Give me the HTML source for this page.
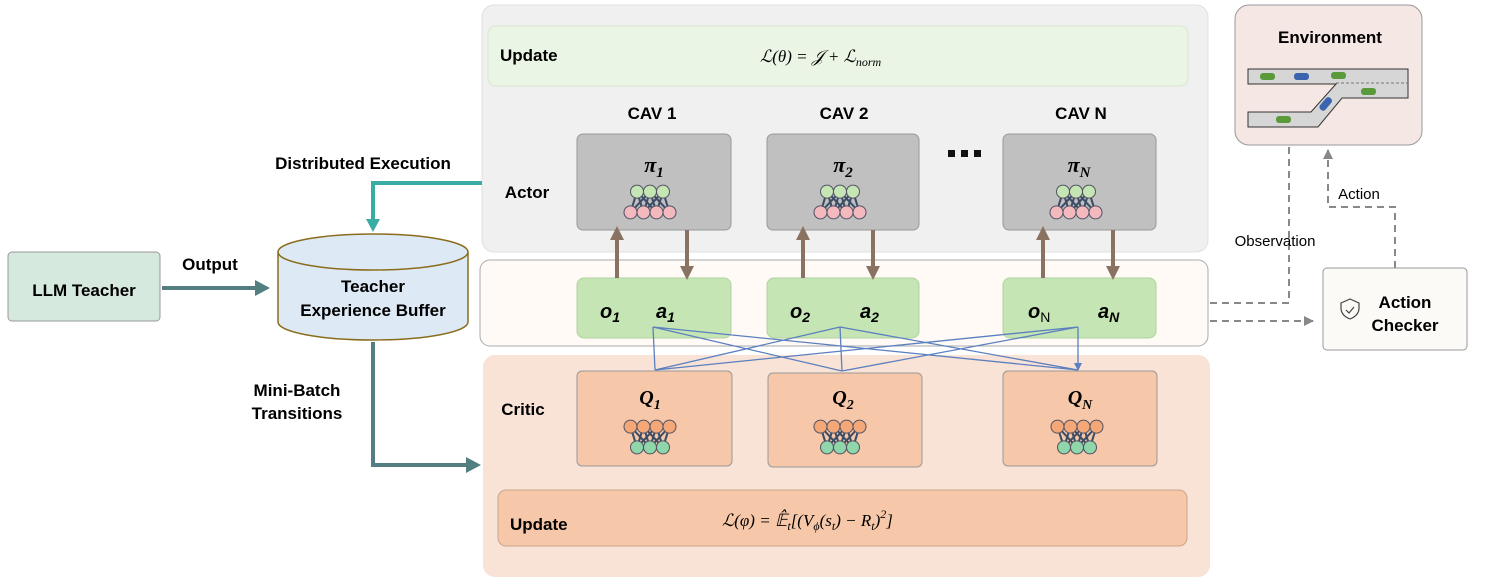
<!DOCTYPE html>
<html><head><meta charset="utf-8"><style>body{margin:0;background:#fff}svg{display:block}text{font-family:"Liberation Sans",sans-serif}.m{font-family:"Liberation Serif",serif;font-style:italic;font-weight:bold}</style></head><body>
<svg width="1495" height="584" viewBox="0 0 1495 584" xmlns="http://www.w3.org/2000/svg">
<defs>
<marker id="bl" markerWidth="8" markerHeight="8" refX="7" refY="4" orient="auto" markerUnits="userSpaceOnUse"><path d="M0,0L8,4L0,8z" fill="#5b7fbf"/></marker>
<marker id="gr" markerWidth="10" markerHeight="10" refX="9" refY="5" orient="auto" markerUnits="userSpaceOnUse"><path d="M0,0L10,5L0,10z" fill="#888"/></marker>
<g id="nnA"><g stroke="#3d4d66" stroke-width="1.6"><path d="M-10,-8L-15,8M-10,-8L-5,8M-10,-8L5,8M0,-8L-15,8M0,-8L-5,8M0,-8L5,8M0,-8L15,8M10,-8L5,8M10,-8L15,8M10,-8L-5,8"/></g><g stroke="#556" stroke-width="0.8"><circle cx="-10" cy="-8" r="5" fill="#c5e6b4"/><circle cx="0" cy="-8" r="5" fill="#c5e6b4"/><circle cx="10" cy="-8" r="5" fill="#c5e6b4"/><circle cx="-15" cy="8" r="5" fill="#f4b8bf"/><circle cx="-5" cy="8" r="5" fill="#f4b8bf"/><circle cx="5" cy="8" r="5" fill="#f4b8bf"/><circle cx="15" cy="8" r="5" fill="#f4b8bf"/></g></g>
<g id="nnQ"><g stroke="#3d4d66" stroke-width="1.6"><path d="M-15,-8L-10,8M-15,-8L0,8M-5,-8L-10,8M-5,-8L0,8M-5,-8L10,8M5,-8L-10,8M5,-8L0,8M5,-8L10,8M15,-8L0,8M15,-8L10,8"/></g><g stroke="#556" stroke-width="0.8"><circle cx="-15" cy="-8" r="5" fill="#f4a877"/><circle cx="-5" cy="-8" r="5" fill="#f4a877"/><circle cx="5" cy="-8" r="5" fill="#f4a877"/><circle cx="15" cy="-8" r="5" fill="#f4a877"/><circle cx="-10" cy="8" r="5" fill="#8fd7aa"/><circle cx="0" cy="8" r="5" fill="#8fd7aa"/><circle cx="10" cy="8" r="5" fill="#8fd7aa"/></g></g>
</defs>
<rect x="482" y="5" width="726" height="247" rx="12" fill="#f0f0f0" stroke="#e0e0e0"/>
<rect x="488" y="26" width="700" height="60" rx="8" fill="#ebf5e5" stroke="#d8e8d0"/>
<text x="500" y="61" font-size="17" font-weight="bold">Update</text>
<text x="760" y="62" font-size="17" class="m" style="font-weight:normal">ℒ(θ) = 𝒥 + ℒ<tspan font-size="12" dy="4">norm</tspan></text>
<text x="652" y="119" font-size="17" font-weight="bold" text-anchor="middle">CAV 1</text>
<text x="844" y="119" font-size="17" font-weight="bold" text-anchor="middle">CAV 2</text>
<text x="1081" y="119" font-size="17" font-weight="bold" text-anchor="middle">CAV N</text>
<text x="527" y="198" font-size="17" font-weight="bold" text-anchor="middle">Actor</text>
<g fill="#111"><rect x="948" y="150" width="7" height="7"/><rect x="961" y="150" width="7" height="7"/><rect x="974" y="150" width="7" height="7"/>
<rect x="951" y="429" width="7" height="7"/><rect x="964" y="429" width="7" height="7"/><rect x="977" y="429" width="7" height="7"/></g>
<g fill="#c0c0c0" stroke="#999"><rect x="577" y="134" width="154" height="96" rx="6"/><rect x="767" y="134" width="152" height="96" rx="6"/><rect x="1003" y="134" width="153" height="96" rx="6"/></g>
<text x="654" y="172" font-size="22" class="m" text-anchor="middle">π<tspan font-size="15" dy="5">1</tspan></text>
<text x="843" y="172" font-size="22" class="m" text-anchor="middle">π<tspan font-size="15" dy="5">2</tspan></text>
<text x="1079" y="172" font-size="22" class="m" text-anchor="middle">π<tspan font-size="15" dy="5">N</tspan></text>
<use href="#nnA" transform="translate(650,202) scale(1.3)"/><use href="#nnA" transform="translate(840,202) scale(1.3)"/><use href="#nnA" transform="translate(1076,202) scale(1.3)"/>
<rect x="480" y="260" width="728" height="86" rx="10" fill="#fffaf5" stroke="#aaa"/>
<g fill="#c5e6b4" stroke="#b0d0a0"><rect x="577" y="278" width="154" height="60" rx="7"/><rect x="767" y="278" width="152" height="60" rx="7"/><rect x="1003" y="278" width="153" height="60" rx="7"/></g>
<g font-size="20" class="m">
<text x="600" y="318">o<tspan font-size="14" dy="4">1</tspan></text><text x="656" y="318">a<tspan font-size="14" dy="4">1</tspan></text>
<text x="790" y="318">o<tspan font-size="14" dy="4">2</tspan></text><text x="860" y="318">a<tspan font-size="14" dy="4">2</tspan></text>
<text x="1028" y="318">o<tspan font-size="14" dy="4" style="font-style:normal;font-weight:normal">N</tspan></text><text x="1098" y="318">a<tspan font-size="14" dy="4">N</tspan></text></g>
<g stroke="#8a7262" stroke-width="4"><path d="M617,278V238M687,230V268M803,278V238M873,230V268M1043,278V238M1113,230V268"/></g>
<g fill="#8a7262"><path d="M610,240L617,226L624,240z M680,266L687,280L694,266z M796,240L803,226L810,240z M866,266L873,280L880,266z M1036,240L1043,226L1050,240z M1106,266L1113,280L1120,266z"/></g>
<rect x="483" y="355" width="727" height="222" rx="12" fill="#f9e3d6"/>
<text x="523" y="415" font-size="17" font-weight="bold" text-anchor="middle">Critic</text>
<g fill="#f6c7a8" stroke="#999"><rect x="577" y="371" width="155" height="95" rx="5"/><rect x="768" y="373" width="154" height="94" rx="5"/><rect x="1003" y="371" width="154" height="95" rx="5"/></g>
<text x="650" y="404" font-size="20" class="m" text-anchor="middle">Q<tspan font-size="14" dy="5">1</tspan></text>
<text x="843" y="404" font-size="20" class="m" text-anchor="middle">Q<tspan font-size="14" dy="5">2</tspan></text>
<text x="1080" y="404" font-size="20" class="m" text-anchor="middle">Q<tspan font-size="14" dy="5">N</tspan></text>
<use href="#nnQ" transform="translate(650,437) scale(1.3)"/><use href="#nnQ" transform="translate(840,437) scale(1.3)"/><use href="#nnQ" transform="translate(1077,437) scale(1.3)"/>
<rect x="498" y="490" width="689" height="56" rx="8" fill="#f6c7a8" stroke="#c9a58c"/>
<text x="510" y="530" font-size="17" font-weight="bold">Update</text>
<text x="722" y="526" font-size="17" class="m" style="font-weight:normal">ℒ(φ) = 𝔼̂<tspan font-size="12" dy="4">t</tspan><tspan dy="-4">[(V</tspan><tspan font-size="12" dy="4">ϕ</tspan><tspan dy="-4">(s</tspan><tspan font-size="12" dy="4">t</tspan><tspan dy="-4">) − R</tspan><tspan font-size="12" dy="4">t</tspan><tspan dy="-4">)</tspan><tspan font-size="12" dy="-8">2</tspan><tspan dy="8">]</tspan></text>
<g stroke="#5b7fbf" stroke-width="1.3" fill="none" marker-end="url(#bl)">
<path d="M653,327L655,370M653,327L842,371M653,327L1078,370M840,327L655,370M840,327L842,371M840,327L1078,370M1078,327L655,370M1078,327L842,371M1078,327L1078,370"/></g>
<rect x="8" y="252" width="152" height="69" rx="4" fill="#d5e9de" stroke="#999"/>
<text x="84" y="296" font-size="17" font-weight="bold" text-anchor="middle">LLM Teacher</text>
<text x="210" y="270" font-size="17" font-weight="bold" text-anchor="middle">Output</text>
<path d="M162,288H258" stroke="#547f82" stroke-width="4"/><path d="M255,280L270,288L255,296z" fill="#547f82"/>
<path d="M278,252V322A95,18 0 0 0 468,322V252" fill="#dde9f5" stroke="#8a6d1c" stroke-width="1.5"/>
<ellipse cx="373" cy="252" rx="95" ry="18" fill="#dde9f5" stroke="#8a6d1c" stroke-width="1.5"/>
<text x="373" y="292" font-size="17" font-weight="bold" text-anchor="middle">Teacher</text>
<text x="373" y="316" font-size="17" font-weight="bold" text-anchor="middle">Experience Buffer</text>
<text x="363" y="169" font-size="17" font-weight="bold" text-anchor="middle">Distributed Execution</text>
<path d="M482,183H373V222" stroke="#3aaca6" stroke-width="4" fill="none"/><path d="M366,219L373,232L380,219z" fill="#3aaca6"/>
<path d="M373,342V465H468" stroke="#547f82" stroke-width="4" fill="none"/><path d="M466,457L481,465L466,473z" fill="#547f82"/>
<text x="297" y="396" font-size="17" font-weight="bold" text-anchor="middle">Mini-Batch</text>
<text x="297" y="419" font-size="17" font-weight="bold" text-anchor="middle">Transitions</text>
<rect x="1235" y="5" width="187" height="140" rx="14" fill="#f5e7e4" stroke="#999"/>
<text x="1330" y="43" font-size="17" font-weight="bold" text-anchor="middle">Environment</text>
<path d="M1248,69H1408V98H1342L1318,127H1248V112H1311L1336,84H1248z" fill="#d6d6d6" stroke="#333" stroke-width="1"/>
<path d="M1336,83H1408" stroke="#777" stroke-dasharray="3,2"/>
<g fill="#5a9a3a"><rect x="1260" y="73" width="15" height="7" rx="3"/><rect x="1331" y="72" width="15" height="7" rx="3"/><rect x="1361" y="88" width="15" height="7" rx="3"/><rect x="1276" y="116" width="15" height="7" rx="3"/></g>
<g fill="#3a64b0"><rect x="1294" y="73" width="15" height="7" rx="3"/><rect x="1318" y="101" width="15" height="7" rx="3" transform="rotate(-50 1325 104)"/></g>
<rect x="1323" y="268" width="144" height="82" rx="4" fill="#fcfaf6" stroke="#999"/>
<text x="1405" y="308" font-size="17" font-weight="bold" text-anchor="middle">Action</text>
<text x="1405" y="331" font-size="17" font-weight="bold" text-anchor="middle">Checker</text>
<path d="M1341,303l9,-4l9,4v5c0,6,-4,9,-9,11c-5,-2,-9,-5,-9,-11z M1346,310l3,3l5,-6" fill="none" stroke="#444" stroke-width="1.2"/>
<g stroke="#888" stroke-width="2" stroke-dasharray="7,5" fill="none">
<path d="M1289,147V303H1210"/>
<path d="M1210,321H1313" marker-end="url(#gr)"/>
<path d="M1395,268V207H1328V150" marker-end="url(#gr)"/>
</g>
<text x="1275" y="246" font-size="15" text-anchor="middle">Observation</text>
<text x="1359" y="199" font-size="15" text-anchor="middle">Action</text>
</svg>
</body></html>
